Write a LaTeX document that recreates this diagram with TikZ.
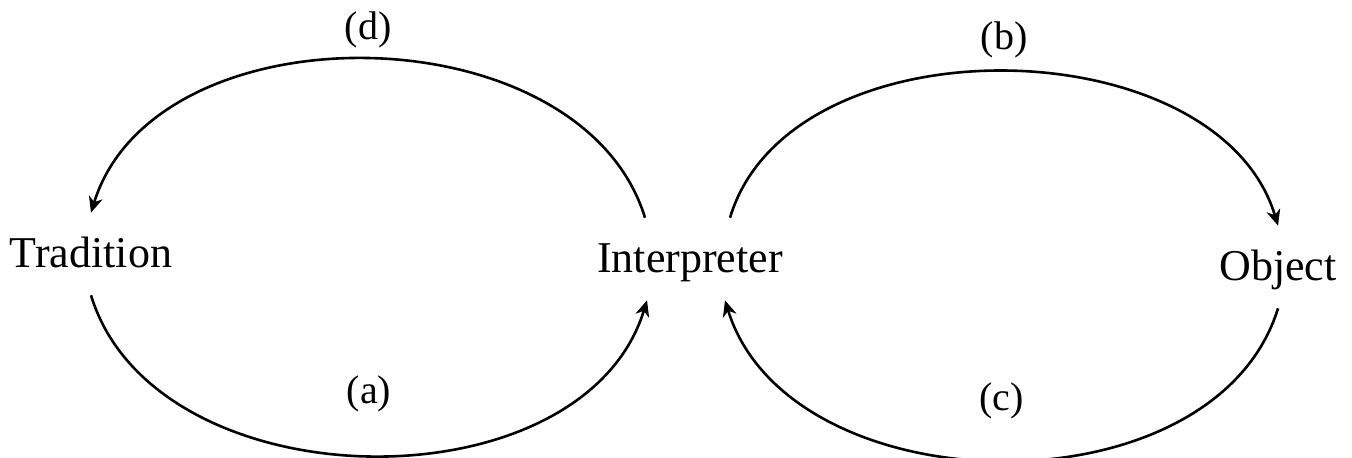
\documentclass[tikz,border=0pt]{standalone}
\usepackage{fontspec}
\setmainfont{Liberation Serif}
\usetikzlibrary{arrows.meta}
\tikzset{every picture/.style={line width=1.3pt}}
\tikzset{
  word/.style={anchor=base,inner sep=0pt,text height=26.5pt,text depth=13.5pt,font=\fontsize{22}{26}\selectfont},
  tag/.style={inner sep=0pt,font=\fontsize{20}{24}\selectfont},
  loop/.style={-{Stealth[length=8pt,width=7pt,inset=2.5pt]}}
}

\begin{document}
\begin{tikzpicture}[x=0.5pt,y=0.5pt,yscale=-1,xscale=1]
\useasboundingbox (0,0) rectangle (1352,457);

% Text Node
\node[word] (trad) at (91,267) {Tradition};
% Text Node
\node[word] (interp) at (690,272) {Interpreter};
% Text Node
\node[word] (obj) at (1278,280) {Object};

%Curve Lines (d)
\draw[loop] ([xshift=-22.5pt]interp.north) .. controls +(-64,-208) and +(64,-208) .. (trad.north) node[tag,midway,above=5pt] {(d)};
%Curve Lines (a)
\draw[loop] (trad.south) .. controls +(64,210) and +(-64,210) .. ([xshift=-21.5pt]interp.south) node[tag,midway,above=21pt] {(a)};
%Curve Lines (b)
\draw[loop] ([xshift=20pt]interp.north) .. controls +(60,-200) and +(-60,-200) .. (obj.north) node[tag,midway,above=6pt] {(b)};
%Curve Lines (c)
\draw[loop] (obj.south) .. controls +(-64,208) and +(64,208) .. ([xshift=17.5pt]interp.south) node[tag,midway,above=20pt] {(c)};

\end{tikzpicture}
\end{document}
